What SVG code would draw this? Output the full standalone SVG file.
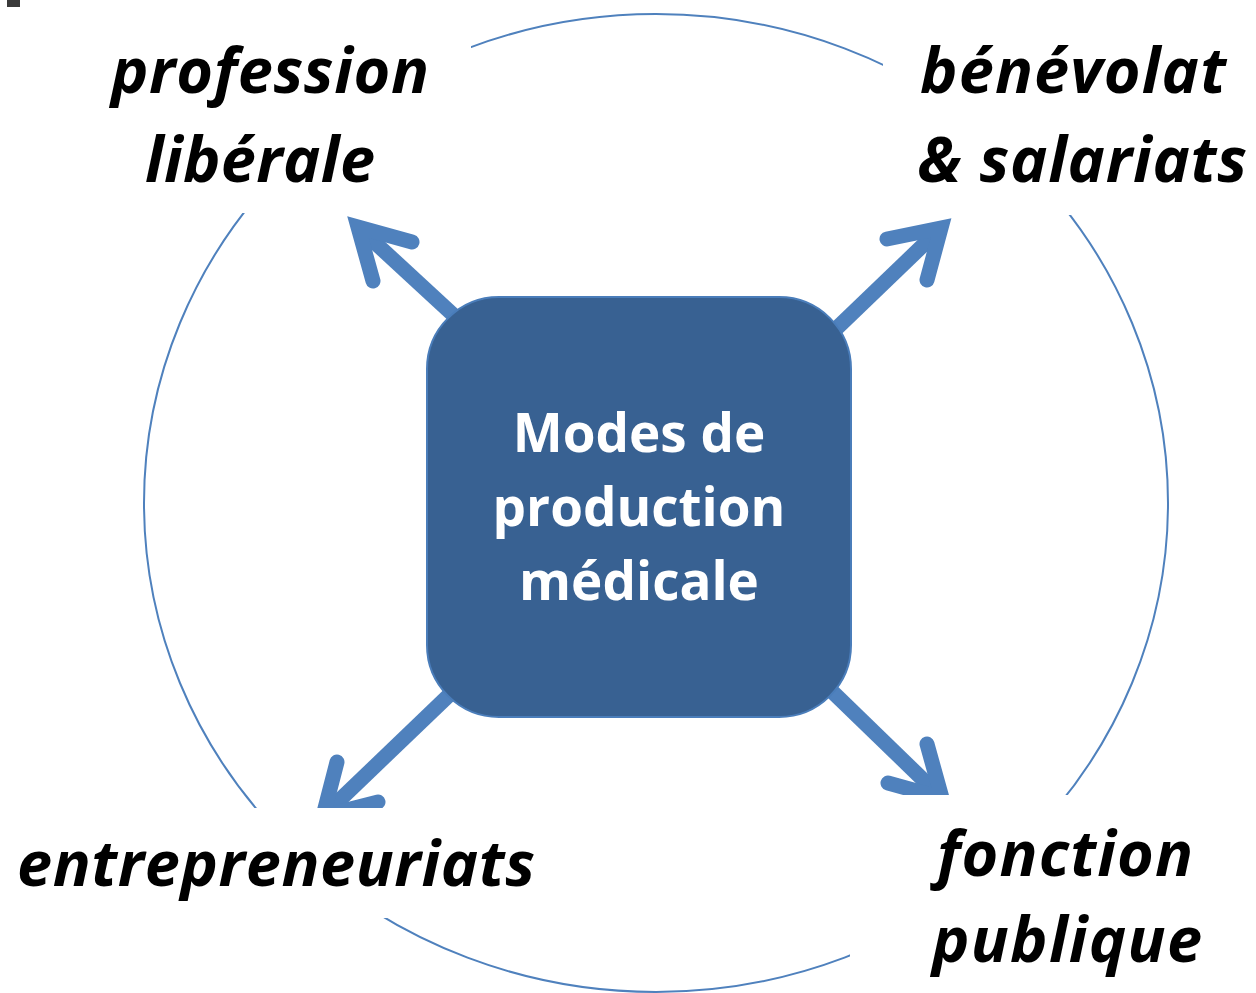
<svg xmlns="http://www.w3.org/2000/svg" width="1256" height="993" viewBox="0 0 1256 993">
<style>
.ring{fill:none;stroke:#4F81BD;stroke-width:2}
.arrow{fill:none;stroke:#4F81BD;stroke-width:15;stroke-linejoin:miter;stroke-miterlimit:6;stroke-linecap:round}
.shaft{fill:none;stroke:#4F81BD;stroke-width:15;stroke-linecap:butt}
.bg{fill:#FFFFFF}
.lbl{font-family:"Open Sans","DejaVu Sans",sans-serif;font-weight:700;font-style:italic;font-size:63px;fill:#000000;text-anchor:middle}
.core{fill:#386192;stroke:#4A7DBA;stroke-width:2}
.coretxt{font-family:"Open Sans","DejaVu Sans",sans-serif;font-weight:700;font-size:53px;fill:#FFFFFF;text-anchor:middle}
</style>
<rect width="1256" height="993" fill="#FFFFFF"/>
<ellipse class="ring" cx="656" cy="503" rx="512" ry="489"/>
<g id="connectors">
<path class="shaft" d="M 475 335 L 358 227"/>
<path class="arrow" d="M 412 242 L 358 227 L 373 281"/>
<path class="shaft" d="M 812 352 L 941 228"/>
<path class="arrow" d="M 887 239 L 941 228 L 927 280"/>
<path class="shaft" d="M 470 675 L 323 816"/>
<path class="arrow" d="M 337 762 L 323 816 L 378 802"/>
<path class="shaft" d="M 812 672 L 942 798"/>
<path class="arrow" d="M 927 744 L 942 798 L 888 783"/>
</g>
<g id="node-profession">
<rect class="bg" x="0" y="0" width="471" height="213"/>
<text class="lbl" x="270" y="93" textLength="318">profession</text>
<text class="lbl" x="260" y="182" textLength="230">libérale</text>
</g>
<g id="node-benevolat">
<rect class="bg" x="883" y="0" width="373" height="215"/>
<text class="lbl" x="1073" y="93" textLength="306">bénévolat</text>
<text class="lbl" x="1082" y="182" textLength="330">&amp; salariats</text>
</g>
<g id="node-entrepreneuriats">
<rect class="bg" x="0" y="808" width="560" height="110"/>
<text class="lbl" x="276" y="886" textLength="518">entrepreneuriats</text>
</g>
<g id="node-fonction">
<rect class="bg" x="850" y="795" width="406" height="198"/>
<text class="lbl" x="1065" y="876" textLength="256">fonction</text>
<text class="lbl" x="1067" y="962" textLength="270">publique</text>
</g>
<g id="node-modes">
<rect class="core" x="427" y="297" width="424" height="420" rx="72" ry="72"/>
<text class="coretxt" x="639" y="452">Modes de</text>
<text class="coretxt" x="639" y="526">production</text>
<text class="coretxt" x="639" y="600">médicale</text>
</g>
<rect x="7" y="0" width="13" height="7" fill="#3A3A3A"/>
</svg>
